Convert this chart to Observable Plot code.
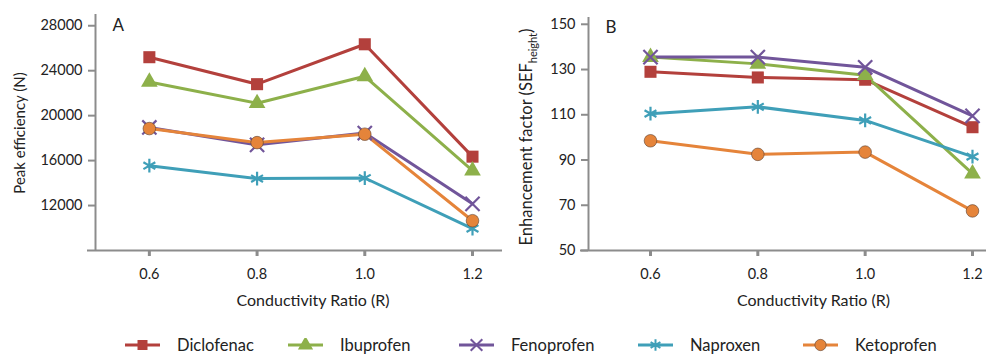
<!DOCTYPE html>
<html>
<head>
<meta charset="utf-8">
<script src="https://cdn.jsdelivr.net/npm/d3@7"></script>
<script src="https://cdn.jsdelivr.net/npm/@observablehq/plot@0.6"></script>
<style>
  body { margin: 0; background: #fff; font-family: Lato, "Open Sans", sans-serif; }
  #wrap { width: 986px; height: 355px; position: relative; overflow: hidden; }
  #charts { display: flex; height: 318px; }
  #legend { position: absolute; left: 0; top: 335px; width: 986px; height: 20px; font-size: 16.5px; color: #222; }
  .item { position: absolute; top: 0; height: 20px; display: flex; align-items: center; }
  .item svg { margin-right: 17px; }
</style>
</head>
<body>
<div id="wrap">
  <div id="charts"></div>
  <div id="legend"></div>
</div>
<script>
// Conductivity ratios (x categories)
const ratios = [0.6, 0.8, 1.0, 1.2];
const drugs = ["Diclofenac", "Ibuprofen", "Fenoprofen", "Naproxen", "Ketoprofen"];
const colors = ["#b3403c", "#8db04a", "#71559a", "#3f9fb8", "#e5843a"];
const symbols = ["square", "triangle", "times", "asterisk", "circle"];

// Panel A: peak efficiency (N)
const nDiclofenac = [25200, 22800, 26350, 16350];
const nIbuprofen  = [23000, 21100, 23500, 15100];
const nFenoprofen = [18950, 17400, 18450, 12150];
const nNaproxen   = [15550, 14400, 14450, 9950];
const nKetoprofen = [18850, 17600, 18350, 10650];

// Panel B: enhancement factor (SEF height)
const sefDiclofenac = [129, 126.5, 125.5, 104.5];
const sefIbuprofen  = [135.5, 132.5, 127.5, 84];
const sefFenoprofen = [135.5, 135.5, 131, 109.5];
const sefNaproxen   = [110.5, 113.5, 107.5, 91.5];
const sefKetoprofen = [98.5, 92.5, 93.5, 67.5];

const ticksA = [12000, 16000, 20000, 24000, 28000];
const ticksB = [50, 70, 90, 110, 130, 150];

const seriesA = [nDiclofenac, nIbuprofen, nFenoprofen, nNaproxen, nKetoprofen];
const seriesB = [sefDiclofenac, sefIbuprofen, sefFenoprofen, sefNaproxen, sefKetoprofen];

// Left edge of each legend entry
const legendX = [125, 288, 459, 638, 803];

const axisGray = "#8c8c8c";
const textColor = "#222";

function rowsOf(values) {
  return values.map((v, j) => ({ratio: ratios[j], value: v}));
}

function seriesMarks(series) {
  const marks = [];
  series.forEach((values, i) => {
    marks.push(Plot.line(rowsOf(values), {x: "ratio", y: "value", stroke: colors[i], strokeWidth: 3}));
  });
  series.forEach((values, i) => {
    const rows = rowsOf(values);
    const sym = symbols[i];
    if (sym === "times" || sym === "asterisk") {
      marks.push(Plot.dot(rows, {x: "ratio", y: "value", symbol: sym, r: 6.5, stroke: colors[i], strokeWidth: 2.2, fill: "none"}));
    } else if (sym === "circle") {
      marks.push(Plot.dot(rows, {x: "ratio", y: "value", symbol: sym, r: 6.3, fill: colors[i], stroke: "#5a4030", strokeWidth: 0.6}));
    } else if (sym === "triangle") {
      marks.push(Plot.dot(rows, {x: "ratio", y: "value", symbol: sym, r: 6.2, fill: colors[i], stroke: "none"}));
    } else {
      marks.push(Plot.dot(rows, {x: "ratio", y: "value", symbol: sym, r: 6.8, fill: colors[i], stroke: "none"}));
    }
  });
  return marks;
}

function panel({series, yDomain, yTicks, xDomain, width, marginLeft, marginRight, marginTop, letter, letterDx, letterDy, titleDx}) {
  return Plot.plot({
    width, height: 318,
    marginLeft, marginRight, marginTop, marginBottom: 68,
    style: {fontFamily: "Lato, 'Open Sans', sans-serif", fontSize: "14px", color: textColor, background: "#fff", overflow: "visible"},
    x: {domain: xDomain},
    y: {domain: yDomain},
    marks: [
      Plot.axisY({ticks: yTicks, tickSize: 7, tickPadding: 6, stroke: axisGray, strokeWidth: 2, fill: textColor, fontSize: 14.5, tickFormat: d3.format("d"), label: null}),
      Plot.axisX({ticks: ratios, tickSize: 6, tickPadding: 12, stroke: axisGray, strokeWidth: 3, fill: textColor, fontSize: 14.5, tickFormat: d3.format(".1f"), label: null}),
      Plot.ruleY([yDomain[0]], {stroke: axisGray, strokeWidth: 2, insetLeft: -8}),
      Plot.ruleX([xDomain[0]], {stroke: axisGray, strokeWidth: 2}),
      ...seriesMarks(series),
      Plot.text([letter], {frameAnchor: "top-left", dx: letterDx, dy: letterDy, lineAnchor: "top", fontSize: 17, fill: textColor}),
      Plot.text(["Conductivity Ratio (R)"], {frameAnchor: "bottom", dx: titleDx, dy: 50, lineAnchor: "middle", fontSize: 16, fill: textColor})
    ]
  });
}

const chartA = panel({
  series: seriesA, yDomain: [8000, 29000], yTicks: ticksA, xDomain: [0.5, 1.2557],
  width: 505, marginLeft: 95, marginRight: 3, marginTop: 14,
  letter: "A", letterDx: 17, letterDy: 4, titleDx: 14
});
const chartB = panel({
  series: seriesB, yDomain: [50, 153], yTicks: ticksB, xDomain: [0.4845, 1.2261],
  width: 481, marginLeft: 83, marginRight: 0, marginTop: 17,
  letter: "B", letterDx: 17, letterDy: 3, titleDx: 26
});

// Rotated y-axis titles (panel B needs a subscript)
d3.select(chartA).append("text")
  .attr("transform", "translate(21,133) rotate(-90)")
  .attr("text-anchor", "middle").attr("dominant-baseline", "middle")
  .attr("fill", textColor).style("font-size", "15px")
  .text("Peak efficiency (N)");

const tB = d3.select(chartB).append("text")
  .attr("transform", "translate(23,137) rotate(-90)")
  .attr("text-anchor", "middle").attr("dominant-baseline", "middle")
  .attr("fill", textColor).style("font-size", "16.5px");
tB.append("tspan").text("Enhancement factor (SEF");
tB.append("tspan").attr("baseline-shift", "sub").style("font-size", "11px").text("height");
tB.append("tspan").text(")");

document.getElementById("charts").append(chartA, chartB);

// Legend
const legend = d3.select("#legend");
drugs.forEach((name, i) => {
  const item = legend.append("div").attr("class", "item").style("left", legendX[i] + "px");
  const svg = item.append("svg").attr("width", 35).attr("height", 14);
  svg.append("line").attr("x1", 0).attr("x2", 35).attr("y1", 7).attr("y2", 7)
    .attr("stroke", colors[i]).attr("stroke-width", 3);
  const symType = {square: d3.symbolSquare, triangle: d3.symbolTriangle, times: d3.symbolTimes, asterisk: d3.symbolAsterisk, circle: d3.symbolCircle}[symbols[i]];
  const stroked = symbols[i] === "times" || symbols[i] === "asterisk";
  svg.append("path").attr("transform", "translate(17.5,7)")
    .attr("d", d3.symbol(symType, stroked ? 90 : 100)())
    .attr("fill", stroked ? "none" : colors[i])
    .attr("stroke", stroked ? colors[i] : (symbols[i] === "circle" ? "#5a4030" : "none"))
    .attr("stroke-width", stroked ? 2 : 0.6);
  item.append("span").text(name);
});
</script>
</body>
</html>
